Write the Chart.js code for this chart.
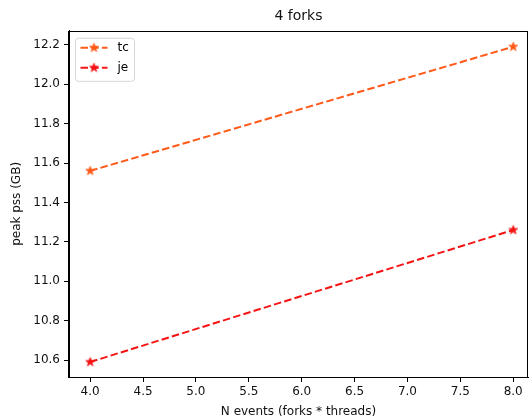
<!DOCTYPE html>
<html>
<head>
<meta charset="utf-8">
<script src="https://cdn.jsdelivr.net/npm/chart.js@4.4.1/dist/chart.umd.min.js"></script>
<style>
  html, body { margin: 0; padding: 0; background: #fff; }
  canvas { display: block; }
</style>
</head>
<body>
<canvas id="pssChart" width="529" height="419"></canvas>
<script>
// peak pss per allocator, 4 forks
const nEvents = [4, 8];
const tcPss = [11.56, 12.19];
const jePss = [10.59, 11.26];
const xTicks = [4.0, 4.5, 5.0, 5.5, 6.0, 6.5, 7.0, 7.5, 8.0];
const yTicks = [10.6, 10.8, 11.0, 11.2, 11.4, 11.6, 11.8, 12.0, 12.2];

const FONT = 'DejaVu Sans';
const TC_COLOR = '#ff5a1a';
const JE_COLOR = '#f51414';

// filled five point star used as marker (Chart.js 'star' is only strokes)
function makeStar(color) {
    const size = 13;
    const c = document.createElement('canvas');
    c.width = size;
    c.height = size;
    const g = c.getContext('2d');
    const cx = size / 2, cy = size / 2;
    const outer = 4.6, inner = outer * 0.382;
    g.beginPath();
    for (let i = 0; i < 10; i++) {
        const r = i % 2 === 0 ? outer : inner;
        const a = -Math.PI / 2 + i * Math.PI / 5;
        const px = cx + r * Math.cos(a);
        const py = cy + r * Math.sin(a);
        if (i === 0) g.moveTo(px, py); else g.lineTo(px, py);
    }
    g.closePath();
    g.fillStyle = color;
    g.fill();
    g.lineWidth = 1;
    g.strokeStyle = color;
    g.stroke();
    return c;
}

const toPoints = ys => nEvents.map((x, i) => ({ x: x, y: ys[i] }));

// box around the axes plus legend in the upper left corner
const framePlugin = {
    id: 'frame',
    afterDraw(chart) {
        const { ctx, chartArea } = chart;
        ctx.save();
        ctx.strokeStyle = '#000';
        ctx.lineWidth = 1;
        ctx.strokeRect(Math.round(chartArea.left) - 0.5, Math.round(chartArea.top) + 0.5,
            Math.round(chartArea.right - chartArea.left), Math.round(chartArea.bottom - chartArea.top));

        // legend
        const bx = chartArea.left + 6.5, by = chartArea.top + 7.5;
        const bw = 59, bh = 43;
        ctx.beginPath();
        ctx.roundRect(bx, by, bw, bh, 3);
        ctx.fillStyle = 'rgba(255,255,255,0.8)';
        ctx.fill();
        ctx.strokeStyle = '#d6d6d6';
        ctx.stroke();

        chart.data.datasets.forEach((ds, i) => {
            const ly = by + 9.5 + i * 20;
            ctx.beginPath();
            ctx.setLineDash(ds.borderDash);
            ctx.strokeStyle = ds.borderColor;
            ctx.lineWidth = ds.borderWidth;
            ctx.moveTo(bx + 5, ly);
            ctx.lineTo(bx + 32, ly);
            ctx.stroke();
            ctx.setLineDash([]);
            const img = ds.pointStyle;
            ctx.drawImage(img, bx + 18.5 - img.width / 2, ly - img.height / 2);
            ctx.fillStyle = '#000';
            ctx.font = '12px ' + FONT;
            ctx.textBaseline = 'middle';
            ctx.fillText(ds.label, bx + 42, ly);
        });
        ctx.restore();
    }
};

const ctx = document.getElementById('pssChart').getContext('2d');
new Chart(ctx, {
    type: 'line',
    data: {
        datasets: [
            {
                label: 'tc',
                data: toPoints(tcPss),
                borderColor: TC_COLOR,
                backgroundColor: TC_COLOR,
                borderWidth: 2,
                borderDash: [7.5, 3.2],
                pointStyle: makeStar(TC_COLOR),
                pointRadius: 5,
                tension: 0
            },
            {
                label: 'je',
                data: toPoints(jePss),
                borderColor: JE_COLOR,
                backgroundColor: JE_COLOR,
                borderWidth: 2,
                borderDash: [7.5, 3.2],
                pointStyle: makeStar(JE_COLOR),
                pointRadius: 5,
                tension: 0
            }
        ]
    },
    options: {
        responsive: false,
        animation: false,
        layout: { autoPadding: false, padding: { left: 0, right: 1, top: 0, bottom: 0 } },
        scales: {
            x: {
                type: 'linear',
                min: 3.8,
                max: 8.14,
                afterBuildTicks: scale => { scale.ticks = xTicks.map(v => ({ value: v })); },
                afterFit: scale => {
                    scale.height = 42;
                    // let the axes run to the right edge of the canvas
                    scale.paddingLeft = 0;
                    scale.paddingRight = 0;
                },
                grid: { drawOnChartArea: false, tickLength: 5, color: '#000' },
                border: { color: '#000' },
                ticks: {
                    color: '#111',
                    font: { family: FONT, size: 12 },
                    padding: 3,
                    maxRotation: 0,
                    callback: v => v.toFixed(1)
                },
                title: {
                    display: true,
                    text: 'N events (forks * threads)',
                    color: '#111',
                    font: { family: FONT, size: 12 },
                    padding: { top: 1, bottom: 0 }
                }
            },
            y: {
                type: 'linear',
                min: 10.514,
                max: 12.271,
                afterBuildTicks: scale => { scale.ticks = yTicks.map(v => ({ value: v })); },
                afterFit: scale => { scale.width = 69; },
                grid: { drawOnChartArea: false, tickLength: 5, color: '#000' },
                border: { color: '#000' },
                ticks: {
                    color: '#111',
                    font: { family: FONT, size: 12 },
                    padding: 4,
                    callback: v => v.toFixed(1)
                },
                title: {
                    display: true,
                    text: 'peak pss (GB)',
                    color: '#111',
                    font: { family: FONT, size: 12 },
                    padding: { top: 10, bottom: 4 }
                }
            }
        },
        plugins: {
            legend: { display: false },
            tooltip: { enabled: false },
            title: {
                display: true,
                text: '4 forks',
                fullSize: false,
                color: '#111',
                font: { family: FONT, size: 14, weight: 'normal' },
                padding: { top: 8, bottom: 6 }
            }
        }
    },
    plugins: [framePlugin]
});
</script>
</body>
</html>
